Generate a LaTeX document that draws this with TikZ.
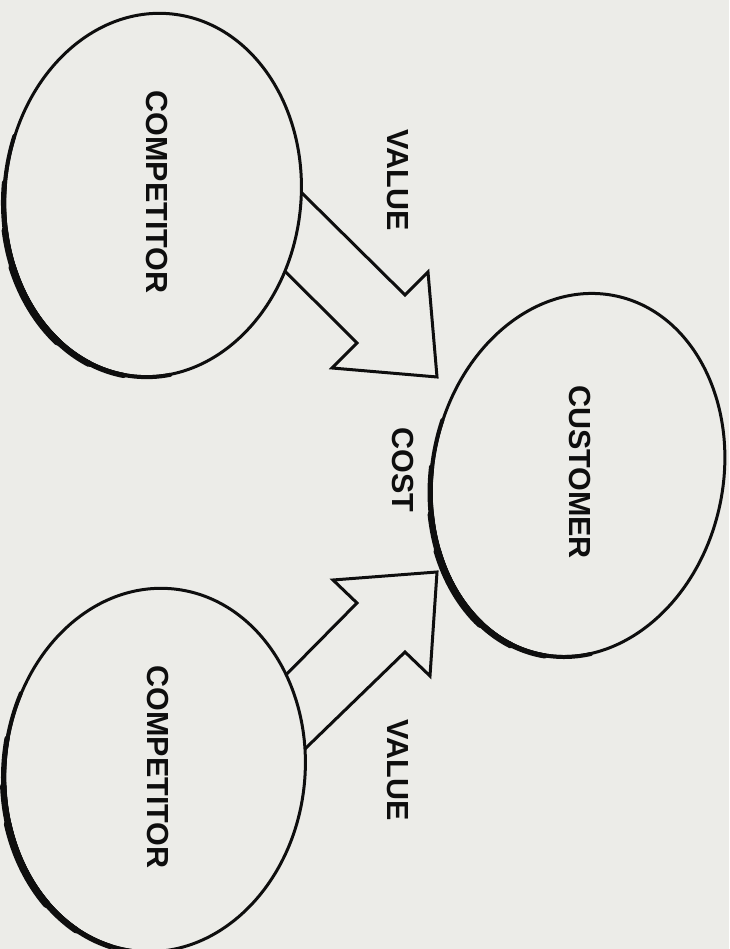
\documentclass[tikz,border=0pt]{standalone}
\usepackage{fontspec}
\setmainfont{Liberation Sans}
\usetikzlibrary{shapes.geometric}
\definecolor{paper}{RGB}{236,236,232}
\definecolor{ink}{RGB}{14,14,14}
\begin{document}
\begin{tikzpicture}[x=1pt,y=1pt,
  party/.style={ellipse, draw=ink, line width=3pt, inner sep=0pt, outer sep=0pt},
  wordstyle/.style={rotate=-90, text=ink, inner sep=0pt, font=\bfseries\fontsize{30.5}{31}\selectfont},
  blockarrow/.style={draw=ink, line width=3pt, line join=miter},
  pen/.style={draw=ink, line width=#1, line cap=round}]
% page
\fill[paper] (0,0) rectangle (729,949);
\useasboundingbox (0,0) rectangle (729,949);

% the three parties
\node[party, minimum width=296pt, minimum height=364pt, rotate=-6]  (compA) at (153,754) {};
\node[party, minimum width=300pt, minimum height=364pt, rotate=-6]  (compB) at (155,179) {};
\node[party, minimum width=290pt, minimum height=366pt, rotate=-12] (cust)  at (578,474) {};

% pen pressure: graded strokes on the lower left of each outline
\newcommand\pressure[6]{% centre x, centre y, tilt, x radius, y radius, start angle
  \begin{scope}[rotate around={#3:(#1,#2)}]
    \foreach \w/\d/\a/\b in {4pt/0.5/0/118, 5.2pt/1/15/100, 6.4pt/1.5/30/86, 7.6pt/2/42/72}{
      \draw[pen=\w] (#1,#2) ++({#6+\a}:{#4+\d} and {#5+\d})
        arc[start angle={#6+\a}, end angle={#6+\b}, x radius={#4+\d}, y radius={#5+\d}];
    }
  \end{scope}}
\pressure{153}{754}{-6}{148}{182}{166}
\pressure{155}{179}{-6}{150}{182}{160}
\pressure{578}{474}{-12}{145}{183}{172}

% labels
\node[wordstyle] (tA)    at (157,757) {COMPETITOR};
\node[wordstyle] (tB)    at (158,182) {COMPETITOR};
\node[wordstyle] (tC)    at (580,477) {CUSTOMER};
\node[wordstyle] (vA)    at (398,769) {VALUE};
\node[wordstyle] (vB)    at (398,179) {VALUE};
\node[wordstyle] (cost)  at (403,479) {COST};

% block arrows from each competitor towards the customer
\draw[blockarrow] (compA.7) -- (405,654) -- (428,677) -- (437,572)
  -- (332,581) -- (357,606) -- (compA.-24);
\draw[blockarrow] (compB.42) -- (357,346) -- (333,369) -- (437,377)
  -- (430,273) -- (405,297) -- (compB.14);
\end{tikzpicture}
\end{document}
